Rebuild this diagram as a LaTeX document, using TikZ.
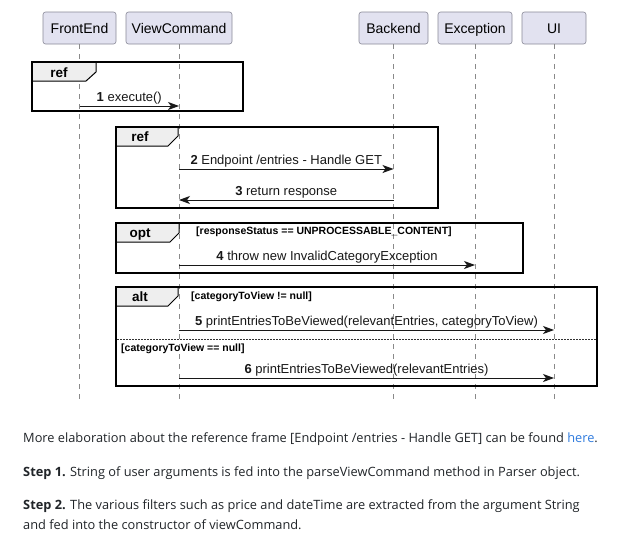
\documentclass[tikz,border=0pt]{standalone}
\usepackage{fontspec}
\setmainfont{Liberation Sans}
\newfontfamily\bodyfont{Open Sans}
\usetikzlibrary{arrows.meta}
\definecolor{partfill}{HTML}{E2E2F0}
\definecolor{partline}{HTML}{8A8A98}
\definecolor{lifecol}{HTML}{8A8A8A}
\definecolor{tabfill}{HTML}{EEEEEE}
\definecolor{msgcol}{HTML}{181818}
\definecolor{bodycol}{HTML}{212529}
\definecolor{linkcol}{HTML}{2F7BDE}
\tikzset{
  part/.style={draw=partline, fill=partfill, line width=0.6pt, rounded corners=2.5pt,
    minimum height=32pt, inner sep=0pt, text height=12.5pt, text depth=1pt, font=\fontsize{14}{16}\selectfont},
  life/.style={draw=lifecol, line width=0.5pt, dash pattern=on 5pt off 5pt},
  msg/.style={draw=msgcol, line width=0.8pt, -{Stealth[length=11pt,width=8pt,inset=3pt]}},
  msglabel/.style={midway, anchor=base, yshift=5pt, inner sep=0pt, font=\fontsize{13}{15}\selectfont, text=msgcol},
  framebox/.style={draw=black, line width=1.6pt},
  tabbox/.style={draw=black, fill=tabfill, line width=1pt},
  tablabel/.style={font=\bfseries\fontsize{13.5}{15}\selectfont, inner sep=0pt, anchor=base},
  guard/.style={anchor=west, inner sep=0pt, font=\bfseries\fontsize{10.5}{12}\selectfont},
  bodytext/.style={anchor=base west, inner sep=0pt, text=bodycol, font=\bodyfont\fontsize{12.8}{21}\selectfont}
}
\begin{document}
\begin{tikzpicture}[x=1pt,y=-1pt]
\useasboundingbox[fill=white] (0,0) rectangle (620,549);

% participants
\node[part, minimum width=73pt] (fe) at (79.5,28) {FrontEnd};
\node[part, minimum width=106pt] (vc) at (179,28) {ViewCommand};
\node[part, minimum width=69pt] (be) at (393.5,28) {Backend};
\node[part, minimum width=74pt] (ex) at (475,28) {Exception};
\node[part, minimum width=64pt] (ui) at (554,28) {UI};

% lifeline ends
\coordinate (feEnd) at (79.5,399);
\coordinate (vcEnd) at (179,399);
\coordinate (beEnd) at (393.5,399);
\coordinate (exEnd) at (475,399);
\coordinate (uiEnd) at (554,399);
\draw[life] (fe.south) -- (feEnd);
\draw[life] (vc.south) -- (vcEnd);
\draw[life] (be.south) -- (beEnd);
\draw[life] (ex.south) -- (exEnd);
\draw[life] (ui.south) -- (uiEnd);

% ref frame 1
\draw[tabbox] (32,62) -- (96,62) -- (96,72) -- (86,81) -- (32,81) -- cycle;
\draw[framebox] (32,62) rectangle (243,111);
\node[tablabel] (reftag1) at (59,77) {ref};
\draw[msg] (fe |- 0,106) -- (vc |- 0,106) node[msglabel] {\textbf{1} execute()};

% ref frame 2
\draw[tabbox] (116,127) -- (178,127) -- (178,136) -- (168,146) -- (116,146) -- cycle;
\draw[framebox] (116,127) rectangle (438,208);
\node[tablabel] (reftag2) at (140,141.5) {ref};
\draw[msg] (vc |- 0,169) -- (be |- 0,169) node[msglabel] {\textbf{2} Endpoint /entries - Handle GET};
\draw[msg] (be |- 0,200) -- (vc |- 0,200) node[msglabel] {\textbf{3} return response};

% opt frame
\draw[tabbox] (116,223) -- (179,223) -- (179,233) -- (170,242) -- (116,242) -- cycle;
\draw[framebox] (116,223) rectangle (523,273);
\node[tablabel] (opttag) at (140,237.5) {opt};
\node[guard] (g1) at (196,232) {[responseStatus == UNPROCESSABLE\_CONTENT]};
\draw[msg] (vc |- 0,265) -- (ex |- 0,265) node[msglabel] {\textbf{4} throw new InvalidCategoryException};

% alt frame
\draw[tabbox] (116,287) -- (178,287) -- (178,296) -- (168,306) -- (116,306) -- cycle;
\draw[framebox] (116,287) rectangle (597,386);
\node[tablabel] (alttag) at (140,301.5) {alt};
\node[guard] (g2) at (191,297) {[categoryToView != null]};
\draw[msg] (vc |- 0,330) -- (ui |- 0,330) node[msglabel] {\textbf{5} printEntriesToBeViewed(relevantEntries, categoryToView)};
\coordinate (sepL) at (117,339);
\coordinate (sepR) at (596,339);
\draw[black!80, line width=0.8pt, dash pattern=on 1.5pt off 1.5pt] (sepL) -- (sepR);
\node[guard] (g3) at (121,349) {[categoryToView == null]};
\draw[msg] (vc |- 0,378) -- (ui |- 0,378) node[msglabel] {\textbf{6} printEntriesToBeViewed(relevantEntries)};

% text below
\node[bodytext] (t1) at (23,442) {More elaboration about the reference frame [Endpoint /entries - Handle GET] can be found \textcolor{linkcol}{here}.};
\node[bodytext] (t2) at (23,476.5) {\textbf{Step 1.} String of user arguments is fed into the parseViewCommand method in Parser object.};
\node[bodytext] (t3) at (23,509.5) {\textbf{Step 2.} The various filters such as price and dateTime are extracted from the argument String};
\node[bodytext] (t4) at (23,529.5) {and fed into the constructor of viewCommand.};
\end{tikzpicture}
\end{document}
